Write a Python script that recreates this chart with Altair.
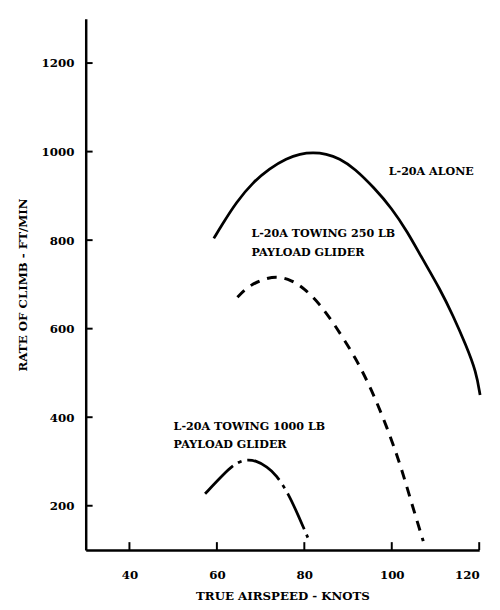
import altair as alt
import pandas as pd

# Curve data
alone_x = [59.3, 61.0, 64.5, 68.3, 72.0, 76.0, 79.0, 82.0, 85.0, 88.0, 91.5, 96.0, 100.0, 103.5, 107.0, 111.0, 114.0, 117.0, 119.3, 120.2]
alone_y = [804, 832, 887, 931, 962, 985, 995, 998, 995, 985, 962, 918, 872, 820, 758, 690, 630, 562, 503, 450]

tow250_x = [64.7, 67.4, 71.2, 74.0, 77.0, 80.0, 83.6, 87.0, 91.7, 95.5, 99.0, 102.0, 104.5, 107.2]
tow250_y = [671, 698, 714, 718, 710, 691, 655, 608, 535, 460, 375, 292, 207, 120]

tow1000_x = [57.3, 61.6, 64.0, 66.5, 69.0, 71.5, 73.5, 76.4, 78.7, 80.8]
tow1000_y = [227, 272, 294, 305, 302, 288, 271, 227, 176, 128]

x_ticks = [40, 60, 80, 100, 120]
y_ticks = [200, 400, 600, 800, 1000, 1200]

label_text = ["L-20A ALONE", "L-20A TOWING 250 LB", "PAYLOAD GLIDER",
              "L-20A TOWING 1000 LB", "PAYLOAD GLIDER"]
label_x = [99.3, 67.9, 67.9, 50.1, 50.1]
label_y = [953, 813, 771, 378, 338]

FONT = "DejaVu Serif"

xs = alt.Scale(domain=[30, 120], nice=False, zero=False)
ys = alt.Scale(domain=[100, 1300], nice=False, zero=False)

df_alone = pd.DataFrame({"x": alone_x, "y": alone_y})
df_250 = pd.DataFrame({"x": tow250_x, "y": tow250_y})
df_1000 = pd.DataFrame({"x": tow1000_x, "y": tow1000_y})
df_lab = pd.DataFrame({"t": label_text, "x": label_x, "y": label_y})
df_xt = pd.DataFrame({"v": x_ticks})
df_yt = pd.DataFrame({"v": y_ticks})

xax = alt.Axis(values=x_ticks, format="d", title="TRUE AIRSPEED - KNOTS",
               ticks=False, grid=False, labelPadding=20, titlePadding=10)
yax = alt.Axis(values=y_ticks, format="d", title="RATE OF CLIMB - FT/MIN",
               ticks=False, grid=False, labelPadding=12, titlePadding=12)

solid = alt.Chart(df_alone).mark_line(color="black", strokeWidth=2.8, interpolate="basis").encode(
    x=alt.X("x:Q", scale=xs, axis=xax),
    y=alt.Y("y:Q", scale=ys, axis=yax),
)
dashed = alt.Chart(df_250).mark_line(color="black", strokeWidth=3, strokeDash=[10, 8], interpolate="basis").encode(
    x=alt.X("x:Q", scale=xs), y=alt.Y("y:Q", scale=ys))
dashdot = alt.Chart(df_1000).mark_line(color="black", strokeWidth=2.8, strokeDash=[40, 6, 4, 6], interpolate="basis").encode(
    x=alt.X("x:Q", scale=xs), y=alt.Y("y:Q", scale=ys))

labels = alt.Chart(df_lab).mark_text(align="left", baseline="middle", font=FONT, fontWeight="bold",
                                     fontSize=11.3, color="black").encode(
    x=alt.X("x:Q", scale=xs), y=alt.Y("y:Q", scale=ys), text="t:N")

ytick_marks = alt.Chart(df_yt).mark_rule(color="black", strokeWidth=2).encode(
    y=alt.Y("v:Q", scale=ys), x=alt.value(0), x2=alt.value(7))
xtick_marks = alt.Chart(df_xt).mark_rule(color="black", strokeWidth=2).encode(
    x=alt.X("v:Q", scale=xs), y=alt.value(540), y2=alt.value(532))

chart = alt.layer(solid, dashed, dashdot, labels, ytick_marks, xtick_marks).properties(
    width=400, height=540,
    background="white",
    autosize=alt.AutoSizeParams(type="none"),
    padding={"left": 79, "top": 6, "right": 13, "bottom": 56},
).configure_view(stroke=None).configure_axis(
    domainColor="black", domainWidth=2.5,
    labelFont=FONT, labelFontWeight="bold", labelFontSize=12, labelColor="black",
    titleFont=FONT, titleFontWeight="bold", titleFontSize=12, titleColor="black",
)

chart.save("out.html", embed_options={"renderer": "svg", "actions": False})
